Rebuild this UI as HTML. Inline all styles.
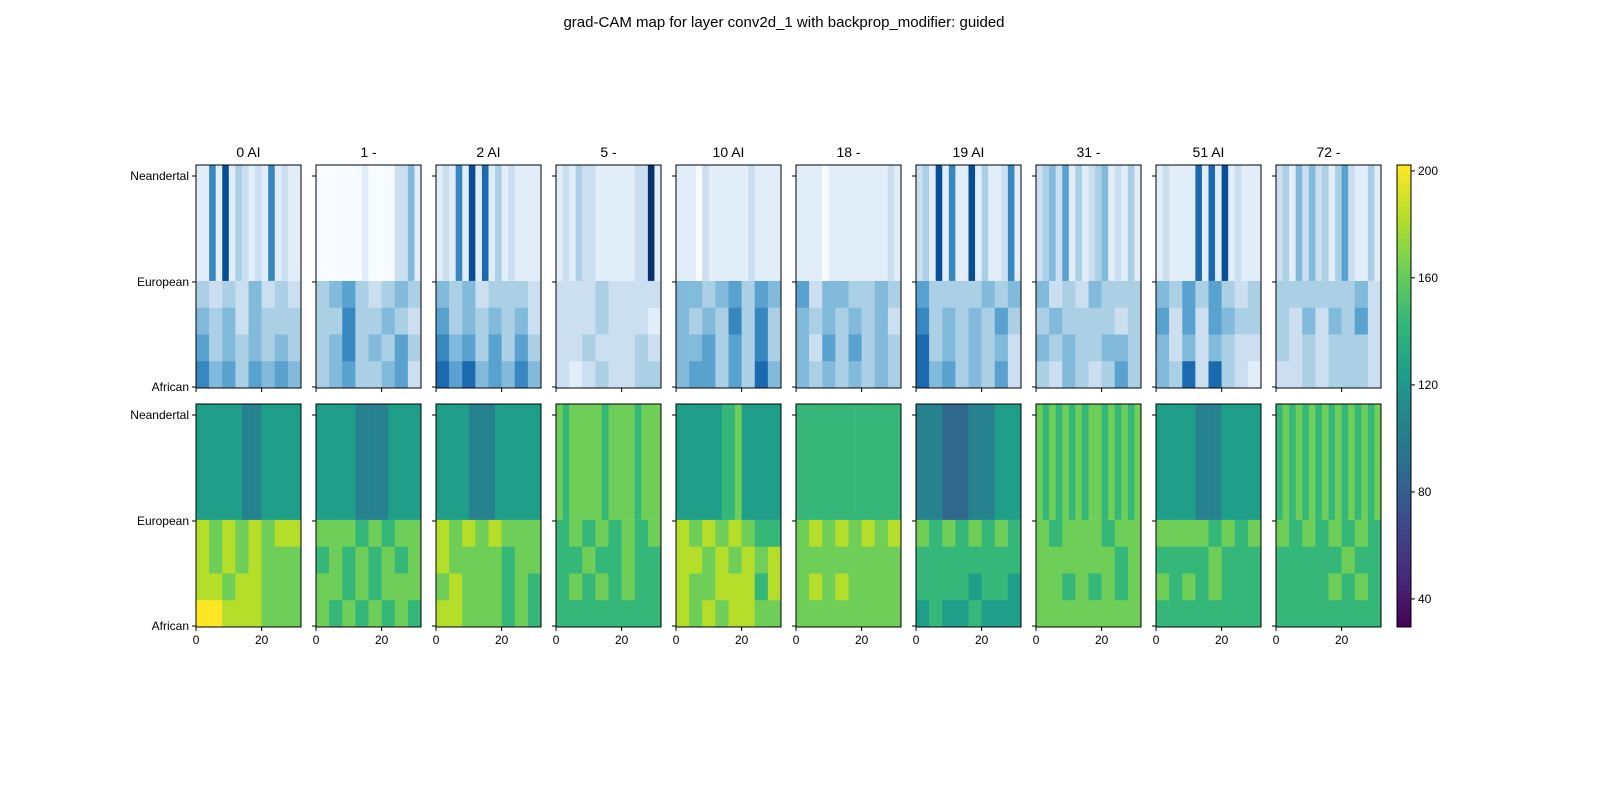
<!DOCTYPE html>
<html><head><meta charset="utf-8">
<style>
body{margin:0;background:#fff;}
svg{display:block;font-family:"Liberation Sans","DejaVu Sans",sans-serif;}
</style></head>
<body>
<svg id="fig" width="1600" height="800" viewBox="0 0 1600 800" xmlns="http://www.w3.org/2000/svg">
<rect width="1600" height="800" fill="#fff"/>
<text x="784" y="27" text-anchor="middle" font-size="15">grad-CAM map for layer conv2d_1 with backprop_modifier: guided</text>
<g id="panels"></g>
<g id="cbar"></g>
</svg>
<script>
// ---- data ----
const titles = ["0 AI","1 -","2 AI","5 -","10 AI","18 -","19 AI","31 -","51 AI","72 -"];
const yTickLabels = ["Neandertal","European","African"];
const xTickLabels = [0,20];
const cbarTicks = [40,80,120,160,200];
// guided backprop (Blues, 0-9) upper section column intensities (16 cols)
const guidedTop = [
 "1161813212161211","0000000100002241","1216181713121111","1213221111112291",
 "1110211111121111","1111011111111121","2318161181311261","2342513123412131",
 "1211117171812111","2314242313521131"];
// guided backprop lower section, 4 rows x 8 cols
const guidedBottom = [
 ["32324232","34532343","43423332","22232222","44345354","52443343","53333434","42324333","43535323","33333342"],
 ["43424333","33633432","53434342","22232221","43436363","43434342","63434353","34333323","52525433","32424352"],
 ["53434343","34634353","64535353","22322232","44535363","42535343","73434342","43433443","42424322","32323332"],
 ["64535454","34533452","75745464","21232233","45535374","43434343","74534352","32432353","43727321","22323332"]];
// grad-CAM (viridis, 0-9) upper section, 16 cols
const camTop = [
 "5555555444555555","5555554444455555","5555544445555555","7677777677776777",
 "5555555667555555","6666666666666666","4444333344445555","7676767677676767",
 "5555554444555555","6767676767676767"];
// grad-CAM lower section, 4 rows x 8 cols
const camBottom = [
 ["87878788","77767677","87878777","67676767","87878766","78787878","76767676","76777677","77776767","76767676"],
 ["87878777","67676767","87777677","66766766","88787878","77777777","66666666","77777767","66667666","66666766"],
 ["88788777","77676777","78777676","67676766","87788868","78787777","66665665","77676767","76767666","66667676"],
 ["99888777","76767676","88777676","66666666","87878877","77777777","56556555","77777777","66666666","66666666"]];
const vmin = 29.5, vmax = 202.2;

// ---- colormaps ----
const blues=[[247,251,255],[222,235,247],[198,219,239],[158,202,225],[107,174,214],[66,146,198],[33,113,181],[8,81,156],[8,48,107]];
const viridis=[[68,1,84],[72,40,120],[62,73,137],[49,104,142],[38,130,142],[31,158,137],[53,183,121],[110,206,88],[181,222,43],[253,231,37]];
function cmap(stops,t){t=Math.max(0,Math.min(1,t));const f=t*(stops.length-1);const i=Math.min(stops.length-2,Math.floor(f));const r=f-i;
 const c=stops[i].map((v,k)=>Math.round(v+(stops[i+1][k]-v)*r));return `rgb(${c[0]},${c[1]},${c[2]})`;}

// ---- layout ----
const NS="http://www.w3.org/2000/svg";
const px0=196, pstep=120, pw=105, rowY=[165,404], ph=223, splitFrac=0.52;
const xScale=(x0,c)=>x0+ (c+0.5)/32*pw; // column value -> pixel
function mk(tag,attrs,parent){const e=document.createElementNS(NS,tag);for(const k in attrs)e.setAttribute(k,attrs[k]);parent.appendChild(e);return e;}
const G=document.getElementById('panels');

function drawPanel(p,r){
 const x0=px0+p*pstep, y0=rowY[r];
 const g=mk('g',{},G);
 
 
 const top=r===0?guidedTop[p]:camTop[p];
 const bot=r===0?guidedBottom:camBottom;
 const cm=r===0?blues:viridis;
 const splitY=y0+ph*splitFrac;
 const cw=pw/top.length;
 for(let i=0;i<top.length;i++){
  const cell=mk('rect',{x:x0+i*cw,y:y0,width:cw+0.3,height:splitY-y0,fill:cmap(cm,+top[i]/9)},g);
  
  
 }
 const rh=(y0+ph-splitY)/bot.length;
 for(let j=0;j<bot.length;j++){const s=bot[j][p];const bw=pw/s.length;
  for(let i=0;i<s.length;i++){
   const cell=mk('rect',{x:x0+i*bw,y:splitY+j*rh,width:bw+0.3,height:rh+0.3,fill:cmap(cm,+s[i]/9)},g);
   
   
  }}
 mk('rect',{x:x0,y:y0,width:pw,height:ph,fill:'none',stroke:'#000','stroke-width':1},g);
 // y ticks
 const ty=[y0+11,splitY+1,y0+ph-1];
 ty.forEach((yy,k)=>{mk('line',{x1:x0-4,x2:x0,y1:yy,y2:yy,stroke:'#000'},g);
  if(p===0){const t=mk('text',{x:x0-7,y:yy+4,'text-anchor':'end','font-size':12},g);t.textContent=yTickLabels[k];
   }});
 // x ticks
 xTickLabels.forEach(v=>{const xx=xScale(x0,v)-1.6;mk('line',{x1:xx,x2:xx,y1:y0+ph,y2:y0+ph+4,stroke:'#000'},g);
  if(r===1){const t=mk('text',{x:xx,y:y0+ph+17,'text-anchor':'middle','font-size':12},g);t.textContent=v;
   }});
 if(r===0){const t=mk('text',{x:x0+pw/2,y:157,'text-anchor':'middle','font-size':14},g);t.textContent=titles[p];
  }
}
for(let p=0;p<10;p++){drawPanel(p,0);drawPanel(p,1);}

// colorbar
const C=document.getElementById('cbar');
const cbx=1397,cbw=14,cby0=165,cby1=627;
const cbY=v=>cby1-(v-vmin)/(vmax-vmin)*(cby1-cby0);
for(let i=0;i<100;i++){const a=cby0+(cby1-cby0)*i/100;
 mk('rect',{x:cbx,y:a,width:cbw,height:(cby1-cby0)/100+0.5,fill:cmap(viridis,1-i/100)},C);}
mk('rect',{x:cbx,y:cby0,width:cbw,height:cby1-cby0,fill:'none',stroke:'#000'},C);
cbarTicks.forEach(v=>{const y=cbY(v);mk('line',{x1:cbx+cbw,x2:cbx+cbw+4,y1:y,y2:y,stroke:'#000'},C);
 const t=mk('text',{x:cbx+cbw+7,y:y+4,'font-size':12},C);t.textContent=v;
 });
</script>
</body></html>
